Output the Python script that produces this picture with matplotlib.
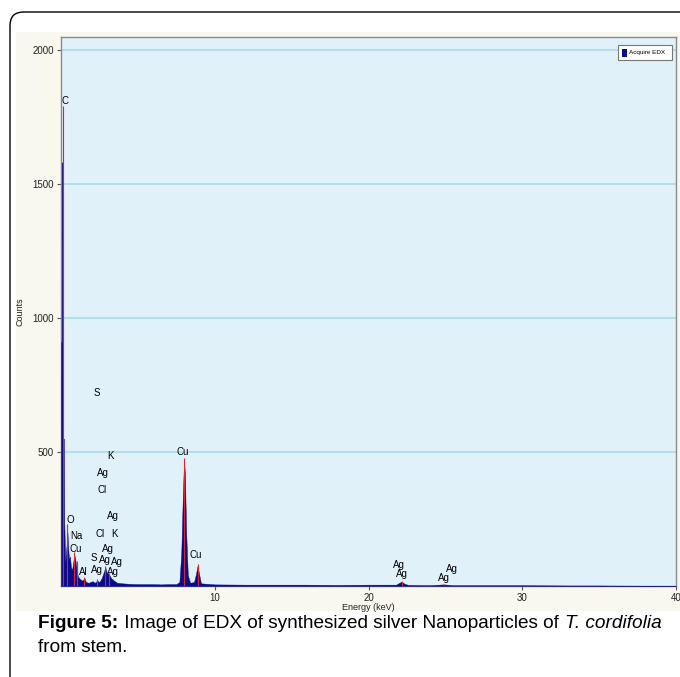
import matplotlib
matplotlib.use("Agg")
import matplotlib.pyplot as plt
from matplotlib.patches import Rectangle, FancyBboxPatch
import numpy as np

plt.rcParams['font.family'] = ['Liberation Sans', 'DejaVu Sans']

# ---- spectrum outline (energy keV, counts) ----
energy = [0.00, 0.01, 0.04, 0.05, 0.09, 0.10, 0.14, 0.15, 0.19, 0.21, 0.28, 0.36,
          0.42, 0.47, 0.52, 0.58, 0.65, 0.72, 0.80, 0.87, 0.94, 1.02, 1.10, 1.25,
          1.40, 1.52, 1.62, 1.80, 2.05, 2.20, 2.35, 2.50, 2.65, 2.80, 2.88, 2.98,
          3.10, 3.25, 3.45, 3.65, 4.00, 4.50, 5.00, 5.50, 6.00, 6.50, 7.00, 7.50,
          7.70, 7.82, 7.92, 8.00, 8.06, 8.14, 8.25, 8.40, 8.65, 8.78, 8.88, 8.98,
          9.10, 10.0, 12.0, 14.0, 16.0, 18.0, 20.0, 21.8, 22.0, 22.16, 22.35, 22.6,
          24.0, 24.9, 25.5, 28.0, 30.0, 33.0, 35.0, 38.0, 40.0]
counts = [0, 910, 910, 1580, 1580, 1270, 1270, 550, 550, 240, 90, 150,
          200, 140, 100, 110, 70, 60, 90, 115, 95, 60, 35, 25,
          20, 30, 15, 12, 18, 12, 20, 15, 30, 55, 70, 50,
          45, 30, 20, 12, 10, 8, 7, 7, 7, 6, 7, 7,
          15, 120, 330, 465, 420, 200, 40, 12, 15, 45, 75, 45,
          10, 6, 5, 5, 5, 4, 5, 5, 12, 16, 8, 4,
          3, 6, 3, 3, 3, 2, 2, 1, 0]

# ---- element marker lines (red) ----
marker_energy = [0.11, 0.40, 0.87, 1.04, 1.52, 2.35, 2.88, 3.10, 8.03, 8.88, 22.16, 24.9]
marker_height = [1790, 230, 125, 95, 35, 25, 75, 50, 478, 82, 18, 8]

# ---- peak labels ----
label_text = ['C', 'S', 'K', 'Ag', 'Cl', 'Ag', 'O', 'Na', 'Cl', 'K', 'Cu', 'Ag',
              'S', 'Ag', 'Ag', 'Al', 'Ag', 'Ag', 'Cu', 'Cu', 'Ag', 'Ag', 'Ag', 'Ag']
label_x = [0.13, 2.34, 3.25, 2.73, 2.67, 3.38, 0.46, 0.98, 2.54, 3.45, 0.98, 3.06,
           2.15, 2.86, 3.64, 1.43, 2.34, 3.38, 7.94, 8.78, 22.0, 22.19, 25.44, 24.92]
label_y = [1810, 720, 485, 422, 358, 261, 246, 187, 194, 194, 138, 138,
           104, 97, 90, 52, 60, 52, 500, 116, 78, 45, 63, 30]

y_ticks = [500, 1000, 1500, 2000]
x_ticks = [10, 20, 30, 40]

W, H = 680, 677
fig = plt.figure(figsize=(W / 100, H / 100), dpi=100)
fig.patch.set_facecolor('white')

# outer rounded frame
frame = FancyBboxPatch((10 / W, -0.2), 1.2, 1 - 12 / H + 0.2,
                       boxstyle="round,pad=0,rounding_size=0.02",
                       transform=fig.transFigure, facecolor='white',
                       edgecolor='black', linewidth=1.0, zorder=0)
fig.patches.append(frame)
# ivory panel
panel = Rectangle((16 / W, (H - 611) / H), 1, (611 - 32) / H,
                  transform=fig.transFigure, facecolor='#F8F8EF',
                  edgecolor='none', zorder=0.5)
fig.patches.append(panel)

ax = fig.add_axes([61 / W, (H - 586) / H, (676 - 61) / W, (586 - 37) / H])
ax.set_zorder(5)
ax.set_facecolor('#E1F1FA')
ax.set_xlim(0, 40)
ax.set_ylim(0, 2048)
for s in ax.spines.values():
    s.set_color('#8A8A8A')
    s.set_linewidth(1.0)

for yt in y_ticks:
    ax.axhline(yt, color='#A9DAEC', linewidth=1.2, zorder=1)

ax.fill_between(energy, counts, 0, color='#0A0A8C', linewidth=0.3,
                edgecolor='#0A0A8C', zorder=3)
ax.vlines(marker_energy, 0, marker_height, color='#D8262C', linewidth=0.8, zorder=4)

for t, x, y in zip(label_text, label_x, label_y):
    ha = 'left' if t in ('C', 'O') else 'center'
    ax.text(x if ha == 'center' else x - 0.1, y, t, fontsize=7, ha=ha, va='center',
            color='black', zorder=5)

ax.set_yticks(y_ticks)
ax.set_yticklabels([str(v) for v in y_ticks])
ax.set_xticks(x_ticks)
ax.set_xticklabels([str(v) for v in x_ticks])
ax.tick_params(axis='both', labelsize=7, color='#555555', length=3, width=0.8,
               labelcolor='#222222', pad=2)
ax.set_xlabel('Energy (keV)', fontsize=6.5, labelpad=0, color='#222222')
ax.set_ylabel('Counts', fontsize=6.5, labelpad=6, color='#222222')

# legend box
lg = Rectangle((0.906, 0.958), 0.088, 0.027, transform=ax.transAxes,
               facecolor='white', edgecolor='#777777', linewidth=0.8, zorder=6)
ax.add_patch(lg)
ax.add_patch(Rectangle((0.912, 0.964), 0.008, 0.015, transform=ax.transAxes,
                       facecolor='#0A0A8C', edgecolor='none', zorder=7))
ax.text(0.924, 0.9715, 'Acquire EDX', transform=ax.transAxes, fontsize=4.6,
        va='center', ha='left', zorder=7)

# caption with mixed styles
fig.canvas.draw()
renderer = fig.canvas.get_renderer()
x0 = 38 / W
y1 = 1 - 624 / H
parts = [('Figure 5:', 'bold', 'normal'),
         (' Image of EDX of synthesized silver Nanoparticles of ', 'normal', 'normal'),
         ('T. cordifolia', 'normal', 'italic')]
x = x0
for txt, wt, st in parts:
    t = fig.text(x, y1, txt, fontsize=13.65, fontweight=wt, fontstyle=st,
                 va='center', ha='left')
    bb = t.get_window_extent(renderer)
    x += bb.width / W + 1 / W
fig.text(x0, 1 - 648 / H, 'from stem.', fontsize=13.65, va='center', ha='left')

fig.savefig('out.png', dpi=100)
